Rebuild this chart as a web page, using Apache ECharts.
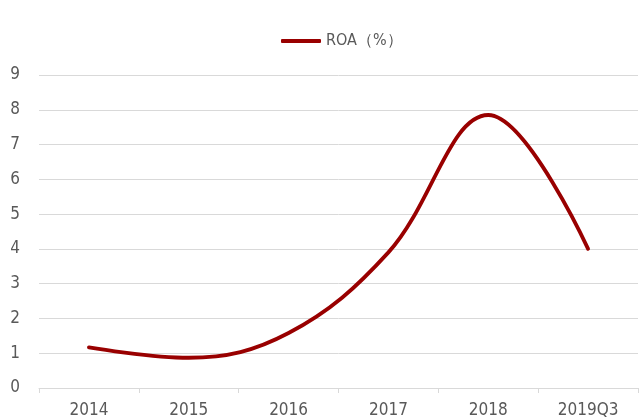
<!DOCTYPE html>
<html><head><meta charset="utf-8">
<script src="https://cdn.jsdelivr.net/npm/echarts@6/dist/echarts.min.js"></script>
<style>html,body{margin:0;padding:0;background:#fff}#c{width:639px;height:419px}</style>
</head><body><div id="c"></div>
<script>
var categories = ['2014','2015','2016','2017','2018','2019Q3'];
var roa = [1.17, 0.87, 1.58, 3.9, 7.85, 4.0];
var seriesName = 'ROA（%）';
var FONT = '"DejaVu Sans Condensed", "Liberation Sans", sans-serif';
var chart = echarts.init(document.getElementById('c'), null, {renderer:'canvas'});
chart.setOption({
  animation: false,
  legend: {
    top: 28, left: 276, itemWidth: 40, itemHeight: 4, itemGap: 4,
    icon: 'roundRect',
    textStyle: {color:'#595959', fontSize: 16, fontFamily: FONT},
    data: [seriesName]
  },
  grid: {left: 39, right: 1, top: 75, bottom: 31, containLabel: false},
  xAxis: {
    type: 'category', data: categories, boundaryGap: true,
    axisLine: {lineStyle: {color:'#d9d9d9'}},
    axisTick: {show: true, length: 5, lineStyle: {color:'#d9d9d9'}},
    axisLabel: {color:'#595959', fontSize: 17, fontFamily: FONT, margin: 14}
  },
  yAxis: {
    type: 'value', min: 0, max: 9, interval: 1,
    axisLine: {show:false}, axisTick: {show:false},
    splitLine: {lineStyle: {color:'#d9d9d9'}},
    axisLabel: {color:'#595959', fontSize: 17, fontFamily: FONT, margin: 19}
  },
  series: [{
    name: seriesName, type: 'line', data: roa, smooth: 0.38,
    showSymbol: false, symbol: 'none',
    lineStyle: {color:'#990000', width: 3.8, cap: 'round'},
    itemStyle: {color:'#990000'}
  }]
});
</script></body></html>
